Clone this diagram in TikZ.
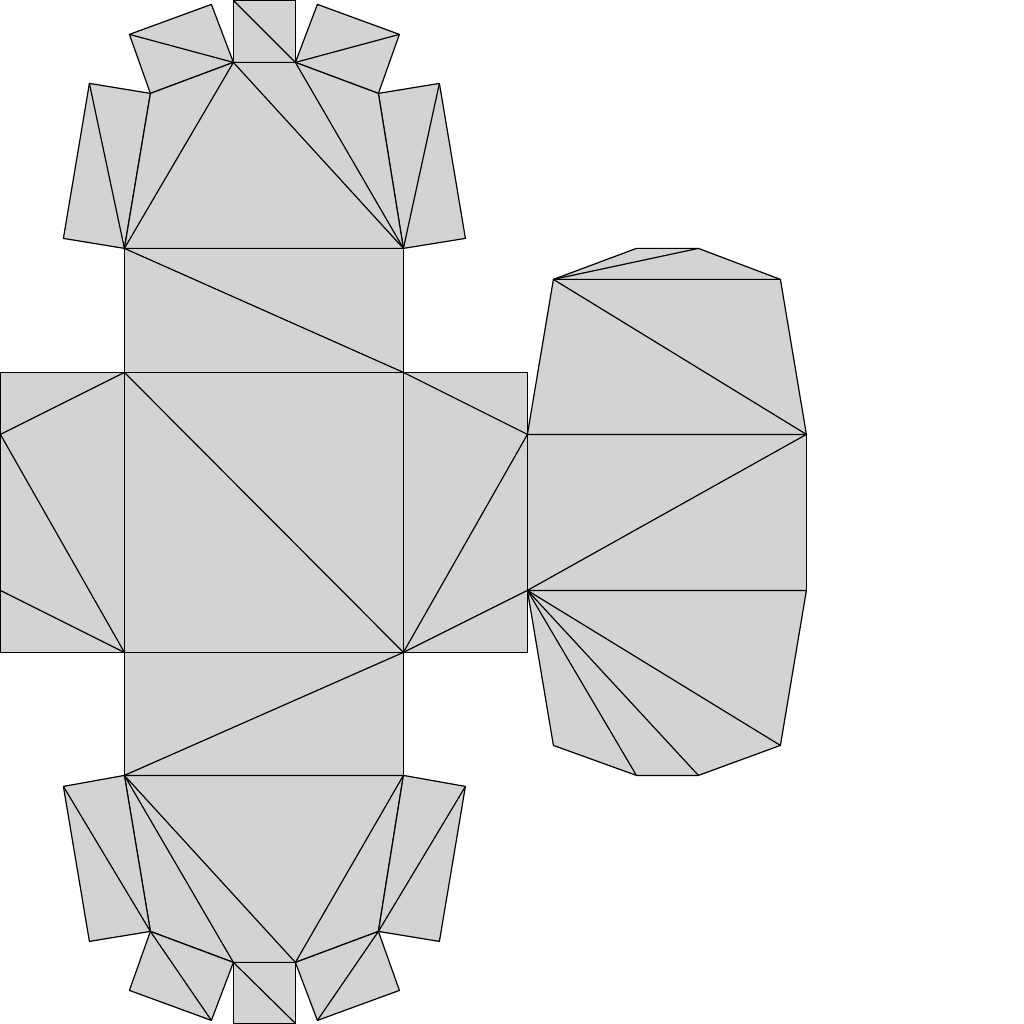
\documentclass[tikz,border=0pt]{standalone}
\definecolor{facegray}{HTML}{D3D3D3}
\tikzset{
  face/.style={draw=black, fill=facegray, line width=0.3mm, line join=round},
  fold/.style={draw=black, line width=0.3mm}
}

\begin{document}
\begin{tikzpicture}[x=0.25mm, y=-0.25mm]
    \useasboundingbox (0,0) rectangle (1024,1024);

    \begin{scope}[shift={(0.4,0.4)}]
    % Faces
    % top cap
    \path [face] (233,0) -- (295,0) -- (295,62) -- (233,62) -- cycle;
    \path [face] (129,34) -- (211,4) -- (233,62) -- (150,93) -- cycle;
    \path [face] (317,4) -- (399,34) -- (378,93) -- (295,62) -- cycle;
    \path [face] (89,83) -- (150,93) -- (124,248) -- (63,238) -- cycle;
    \path [face] (378,93) -- (439,83) -- (465,238) -- (403,248) -- cycle;
    \path [face] (124,248) -- (150,93) -- (233,62) -- (295,62) -- (378,93) -- (403,248) -- cycle;
    % middle cross
    \path [face] (124,248) rectangle (403,372);
    \path [face] (124,372) rectangle (403,652);
    \path [face] (0,372) rectangle (124,652);
    \path [face] (403,372) rectangle (527,652);
    \path [face] (124,652) rectangle (403,775);
    % bottom cap
    \path [face] (124,775) -- (403,775) -- (378,931) -- (295,962) -- (233,962) -- (150,931) -- cycle;
    \path [face] (63,786) -- (124,775) -- (150,931) -- (89,941) -- cycle;
    \path [face] (403,775) -- (465,786) -- (439,941) -- (378,931) -- cycle;
    \path [face] (150,931) -- (233,962) -- (211,1020) -- (129,990) -- cycle;
    \path [face] (295,962) -- (378,931) -- (399,990) -- (317,1020) -- cycle;
    \path [face] (233,962) -- (295,962) -- (295,1023) -- (233,1023) -- cycle;
    % right wing
    \path [face] (527,434) rectangle (806,590);
    \path [face] (527,434) -- (553,279) -- (780,279) -- (806,434) -- cycle;
    \path [face] (553,279) -- (636,248) -- (698,248) -- (780,279) -- cycle;
    \path [face] (527,590) -- (806,590) -- (780,745) -- (698,775) -- (636,775) -- (553,745) -- cycle;

    % Lines
    \foreach \ax/\ay/\bx/\by in {
      233/0/295/62, 129/34/233/62, 399/34/295/62, 89/83/124/248, 439/83/403/248,
      124/248/233/62, 233/62/403/248, 295/62/403/248,
      124/248/403/372, 124/372/403/652,
      124/372/0/434, 0/434/124/652, 0/590/124/652,
      403/372/527/434, 527/434/403/652, 403/652/527/590,
      403/652/124/775,
      124/775/233/962, 124/775/295/962, 403/775/295/962,
      63/786/150/931, 465/786/378/931, 150/931/211/1020, 378/931/317/1020, 233/962/295/1023,
      806/434/527/590, 553/279/806/434, 553/279/698/248,
      527/590/780/745, 527/590/698/775, 527/590/636/775} {
      \draw [fold] (\ax,\ay) -- (\bx,\by);
    }
    \end{scope}
\end{tikzpicture}
\end{document}
